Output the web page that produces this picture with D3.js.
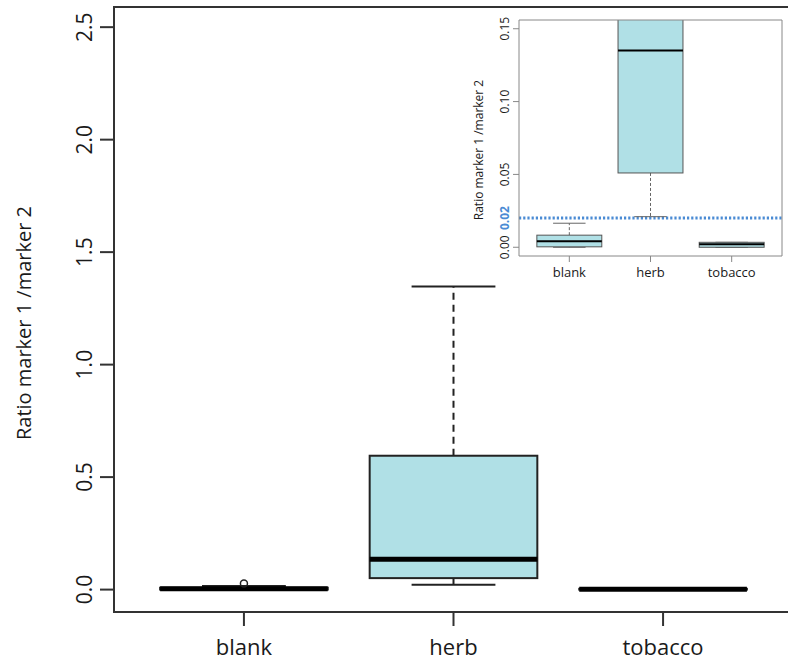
<!DOCTYPE html>
<html>
<head>
<meta charset="utf-8">
<script src="https://cdn.jsdelivr.net/npm/d3@7"></script>
<style>
  body { margin: 0; background: #fff; }
  text { font-family: "Open Sans", sans-serif; fill: #1a1a1a; }
</style>
</head>
<body>
<div id="chart"></div>
<script>
// box statistics, one entry per category
const categories = ['blank', 'herb', 'tobacco'];
const lowerWhisker = [0.0, 0.021, 0.0];
const q1 = [0.0003, 0.051, 0.0];
const median = [0.0041, 0.135, 0.002];
const q3 = [0.0083, 0.595, 0.0034];
const upperWhisker = [0.0165, 1.347, 0.0034];
const outliers = [[0.027], [], []];

// axis settings
const mainYRange = [0, 2.49];
const mainTicks = [0, 0.5, 1.0, 1.5, 2.0, 2.5];
const insetYRange = [0, 0.15];
const insetTicks = [0, 0.05, 0.10, 0.15];
const threshold = 0.02;
const yTitle = 'Ratio marker 1 /marker 2';

const W = 788, H = 667;
const svg = d3.select('#chart').append('svg')
  .attr('width', W).attr('height', H);

const boxes = categories.map((c, i) => ({
  name: c, pos: i + 1,
  lo: lowerWhisker[i], q1: q1[i], med: median[i], q3: q3[i], hi: upperWhisker[i],
  out: outliers[i]
}));

// R style padding of 4%
function padded(r) {
  const d = (r[1] - r[0]) * 0.04;
  return [r[0] - d, r[1] + d];
}

function drawBoxplot(g, o) {
  const x = d3.scaleLinear().domain([0.38, categories.length + 0.62]).range(o.xRange);
  const y = d3.scaleLinear().domain(padded(o.yRange)).range(o.yRange2);
  const bw = (x(2) - x(1)) * 0.8;
  const clipId = 'clip-' + o.id;

  g.append('clipPath').attr('id', clipId).append('rect')
    .attr('x', o.xRange[0]).attr('y', o.yRange2[1])
    .attr('width', o.xRange[1] - o.xRange[0]).attr('height', o.yRange2[0] - o.yRange2[1]);

  const plot = g.append('g').attr('clip-path', `url(#${clipId})`);

  if (o.refLine != null) {
    plot.append('line')
      .attr('x1', o.xRange[0]).attr('x2', W + 10)
      .attr('y1', y(o.refLine)).attr('y2', y(o.refLine))
      .attr('stroke', '#4a8bd4').attr('stroke-width', 3)
      .attr('stroke-dasharray', '2.2,2');
  }

  const b = plot.selectAll('.box').data(boxes).join('g');

  // whiskers
  b.append('line')
    .attr('x1', d => x(d.pos)).attr('x2', d => x(d.pos))
    .attr('y1', d => y(d.q3)).attr('y2', d => y(d.hi))
    .attr('stroke', o.whiskerColor).attr('stroke-width', o.lw)
    .attr('stroke-dasharray', o.dash);
  b.append('line')
    .attr('x1', d => x(d.pos)).attr('x2', d => x(d.pos))
    .attr('y1', d => y(d.q1)).attr('y2', d => y(d.lo))
    .attr('stroke', o.whiskerColor).attr('stroke-width', o.lw)
    .attr('stroke-dasharray', o.dash);
  ['hi', 'lo'].forEach(k => {
    b.append('line')
      .attr('x1', d => x(d.pos) - bw / 4).attr('x2', d => x(d.pos) + bw / 4)
      .attr('y1', d => y(d[k])).attr('y2', d => y(d[k]))
      .attr('stroke', o.whiskerColor).attr('stroke-width', o.lw);
  });

  // box
  b.append('rect')
    .attr('x', d => x(d.pos) - bw / 2).attr('width', bw)
    .attr('y', d => y(d.q3)).attr('height', d => Math.max(0, y(d.q1) - y(d.q3)))
    .attr('fill', '#b0e0e6').attr('stroke', o.boxStroke).attr('stroke-width', o.lw);
  b.append('line')
    .attr('x1', d => x(d.pos) - bw / 2).attr('x2', d => x(d.pos) + bw / 2)
    .attr('y1', d => y(d.med)).attr('y2', d => y(d.med))
    .attr('stroke', '#000').attr('stroke-width', o.medW);

  if (o.showOutliers) {
    b.selectAll('circle').data(d => d.out.map(v => ({ pos: d.pos, v })))
      .join('circle')
      .attr('cx', d => x(d.pos)).attr('cy', d => y(d.v)).attr('r', o.pointR)
      .attr('fill', 'none').attr('stroke', '#222').attr('stroke-width', 1.5);
  }

  // frame
  g.append('path')
    .attr('d', `M${o.xRange[0]},${o.yRange2[1]}V${o.yRange2[0]}H${o.xRange[1]}V${o.yRange2[1]}Z`)
    .attr('fill', 'none').attr('stroke', o.frameColor).attr('stroke-width', o.frameW);

  // y axis
  const yAxis = g.append('g');
  yAxis.selectAll('line').data(o.ticks).join('line')
    .attr('x1', o.xRange[0] - o.tickLen).attr('x2', o.xRange[0])
    .attr('y1', d => y(d)).attr('y2', d => y(d))
    .attr('stroke', o.frameColor).attr('stroke-width', o.frameW);
  yAxis.selectAll('text').data(o.ticks).join('text')
    .attr('transform', d => `translate(${o.tickLabelX},${y(d)}) rotate(-90)`)
    .attr('text-anchor', 'middle').attr('dy', '0.35em')
    .style('font-size', o.tickFont + 'px')
    .text(d => d3.format(o.fmt)(d));

  if (o.refLine != null) {
    yAxis.append('text')
      .attr('transform', `translate(${o.tickLabelX},${y(o.refLine)}) rotate(-90)`)
      .attr('text-anchor', 'middle').attr('dy', '0.35em')
      .style('font-size', o.tickFont + 'px').style('font-weight', 'bold')
      .style('fill', '#4a8bd4')
      .text(d3.format(o.fmt)(o.refLine));
  }

  // x axis
  const xAxis = g.append('g');
  xAxis.selectAll('line').data(boxes).join('line')
    .attr('x1', d => x(d.pos)).attr('x2', d => x(d.pos))
    .attr('y1', o.yRange2[0]).attr('y2', o.yRange2[0] + o.tickLen)
    .attr('stroke', o.frameColor).attr('stroke-width', o.frameW);
  xAxis.selectAll('text').data(boxes).join('text')
    .attr('x', d => x(d.pos)).attr('y', o.xLabelY)
    .attr('text-anchor', 'middle')
    .style('font-size', o.xFont + 'px')
    .text(d => d.name);

  g.append('text')
    .attr('transform', `translate(${o.titleX},${o.titleY}) rotate(-90)`)
    .attr('text-anchor', 'middle')
    .style('font-size', o.titleFont + 'px')
    .text(yTitle);
}

// main chart
drawBoxplot(svg.append('g'), {
  id: 'main', xRange: [114, 793], yRange: mainYRange, yRange2: [612, 7],
  ticks: mainTicks, fmt: '.1f', lw: 2, medW: 5, dash: '7,5',
  whiskerColor: '#222', boxStroke: '#222', frameColor: '#333', frameW: 2,
  tickLen: 14, tickLabelX: 85, tickFont: 21, xLabelY: 655, xFont: 22,
  titleX: 31, titleY: 323, titleFont: 20, showOutliers: true, pointR: 3.5
});

// inset, zoomed to the low range
const inset = svg.append('g');
inset.append('rect')
  .attr('x', 463).attr('y', 9).attr('width', W - 463).attr('height', 274)
  .attr('fill', '#fff');
drawBoxplot(inset, {
  id: 'inset', xRange: [519, 782], yRange: insetYRange, yRange2: [256, 20],
  ticks: insetTicks, fmt: '.2f', lw: 1, medW: 2, dash: '3,2',
  whiskerColor: '#666', boxStroke: '#555', frameColor: '#888', frameW: 1,
  tickLen: 6, tickLabelX: 505, tickFont: 12, xLabelY: 277, xFont: 13,
  titleX: 483, titleY: 150, titleFont: 12, showOutliers: false, pointR: 2,
  refLine: threshold
});
</script>
</body>
</html>
